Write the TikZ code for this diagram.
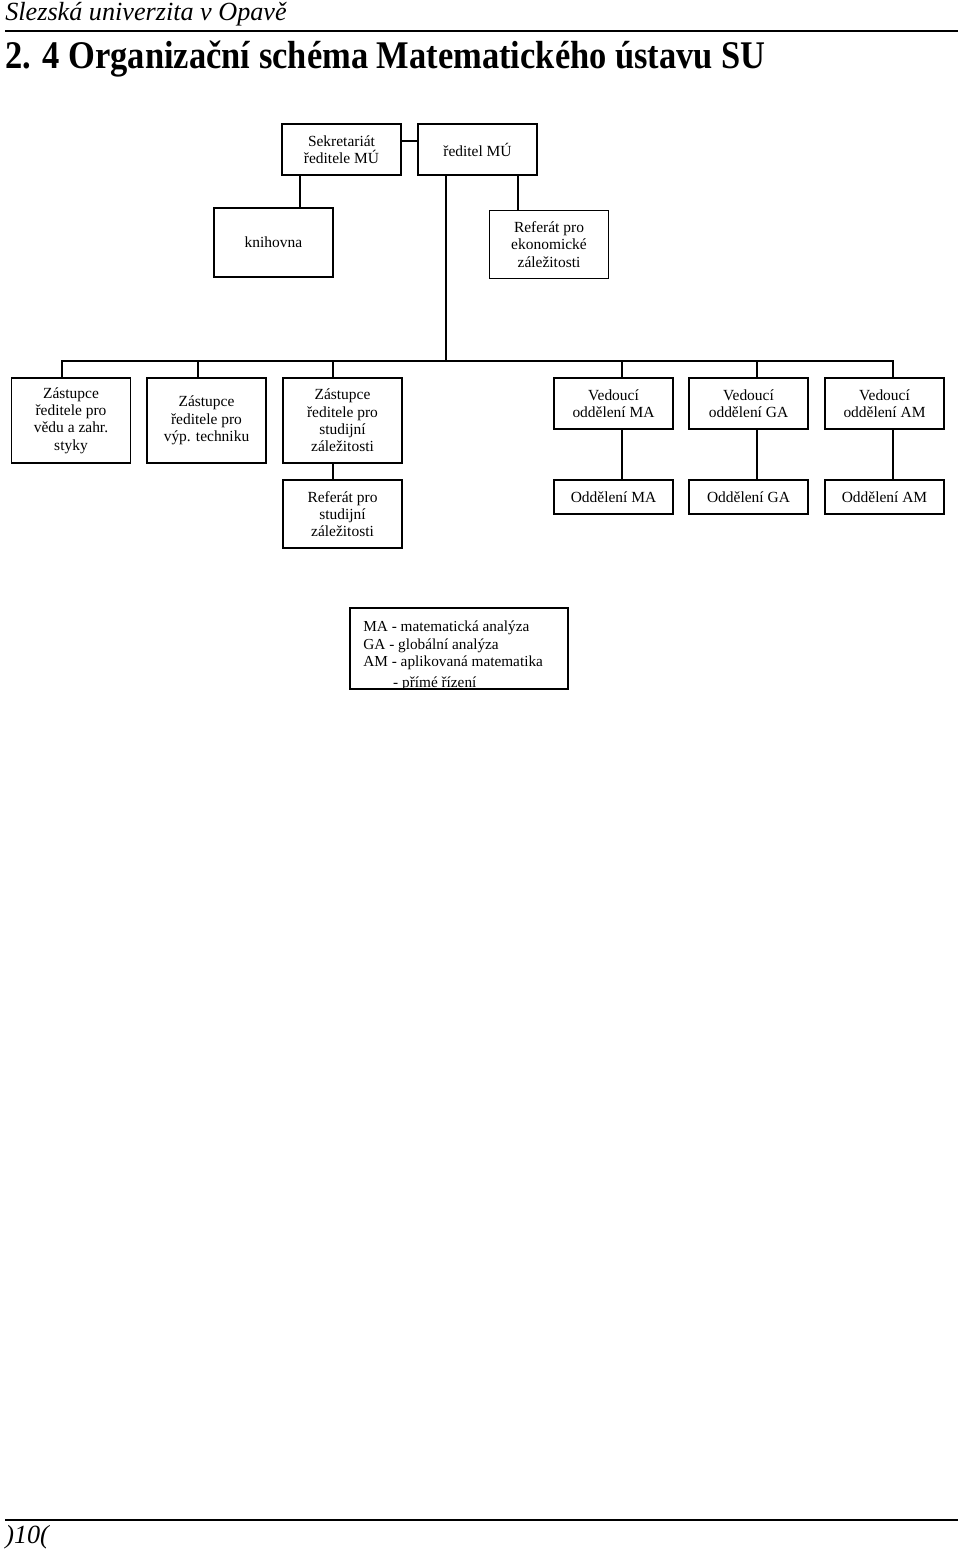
\documentclass[tikz,border=0pt]{standalone}
\usepackage{fontspec}
\setmainfont{Liberation Serif}
\newfontfamily\titlefont[FakeStretch=0.88]{Liberation Serif}
\newfontfamily\headfont{Liberation Serif}
\usetikzlibrary{calc}
\tikzset{
  unit/.style={draw,line width=1.1pt,minimum width=2.38cm,inner sep=1pt,align=center,
    font=\fontsize{8.8}{9.8}\selectfont},
  link/.style={line width=1pt,line cap=rect},
  pagerule/.style={line width=1.4pt},
  pagehead/.style={anchor=base west,inner sep=0pt,font=\headfont\itshape\fontsize{14.9}{16}\selectfont},
  chaptitle/.style={anchor=base west,inner sep=0pt,font=\titlefont\bfseries\fontsize{22.3}{24}\selectfont},
}
\begin{document}
\begin{tikzpicture}[x=0.02cm,y=-0.02cm]
  \useasboundingbox (0,0) rectangle (960,1551);
  % page head
  \node[pagehead] (school) at (5,21) {Slezská univerzita v Opavě};
  \draw[pagerule] (5,31) -- (958,31);
  \node[chaptitle] (title) at (5,69) {2. 4 Organizační schéma Matematického ústavu SU};
  % management
  \node[unit,minimum height=1.02cm] (sekr) at (341.5,149.5) {Sekretariát\\ředitele MÚ};
  \node[unit,minimum height=1.02cm] (reditel) at (477.5,149.5) {ředitel MÚ};
  \node[unit,minimum height=1.38cm] (knih) at (273.5,242.5) {knihovna};
  \node[unit,minimum height=1.36cm] (refek) at (549,244.5) {Referát pro\\ekonomické\\záležitosti};
  % deputies
  \node[unit,minimum height=1.7cm] (zveda) at (71,420.5) {Zástupce\\ředitele pro\\vědu a zahr.\\styky};
  \node[unit,minimum height=1.7cm] (ztech) at (206.5,420.5) {Zástupce\\ředitele pro\\výp. techniku};
  \node[unit,minimum height=1.7cm] (zstud) at (342.5,420.5) {Zástupce\\ředitele pro\\studijní\\záležitosti};
  \node[unit,minimum height=1.36cm] (refst) at (342.5,514) {Referát pro\\studijní\\záležitosti};
  % departments
  \foreach \dep/\xx in {MA/613.5,GA/748.5,AM/884.5}{
    \node[unit,minimum height=1.02cm] (ved\dep) at (\xx,403.5) {Vedoucí\\oddělení \dep};
    \node[unit,minimum height=0.68cm] (odd\dep) at (\xx,497) {Oddělení \dep};
  }
  % links
  \coordinate (bus) at (0,361);
  \draw[link] ($(sekr.east)+(0,-8.5)$) -- ($(reditel.west)+(0,-8.5)$);
  \draw[link] ($(sekr.south)+(-41.5,0)$) coordinate (s1) -- (s1 |- knih.north);
  \draw[link] ($(reditel.south)+(40.5,0)$) coordinate (r1) -- (r1 |- refek.north);
  \draw[link] ($(reditel.south)+(-31.5,0)$) coordinate (r2) -- (r2 |- bus);
  \foreach \n/\dx in {zveda/-9,ztech/-8.5,zstud/-9.5,vedMA/8.5,vedGA/8.5,vedAM/8.5}
    \draw[link] ($(\n.north)+(\dx,0)$) coordinate (t-\n) -- (t-\n |- bus);
  \draw[link] (t-zveda |- bus) -- (t-vedAM |- bus);
  \foreach \n/\m/\dx in {zstud/refst/-9.5,vedMA/oddMA/8.5,vedGA/oddGA/8.5,vedAM/oddAM/8.5}
    \draw[link] ($(\n.south)+(\dx,0)$) coordinate (b-\n) -- (b-\n |- \m.north);
  % legend
  \node[unit,minimum width=4.36cm,minimum height=1.62cm] (legend) at (459,648.5) {};
  \begin{scope}
    \clip (legend.south west) rectangle (legend.north east);
    \node[anchor=north west,align=left,inner sep=0pt,font=\fontsize{8.7}{9.9}\selectfont] (legtext) at (363,621)
      {MA - matematická analýza\\GA - globální analýza\\AM - aplikovaná matematika\\[2pt]\hspace*{17pt}- přímé řízení};
  \end{scope}
  % page foot
  \draw[pagerule] (5,1520) -- (958,1520);
  \node[pagehead] (pageno) at (5,1543) {)10(};
\end{tikzpicture}
\end{document}
